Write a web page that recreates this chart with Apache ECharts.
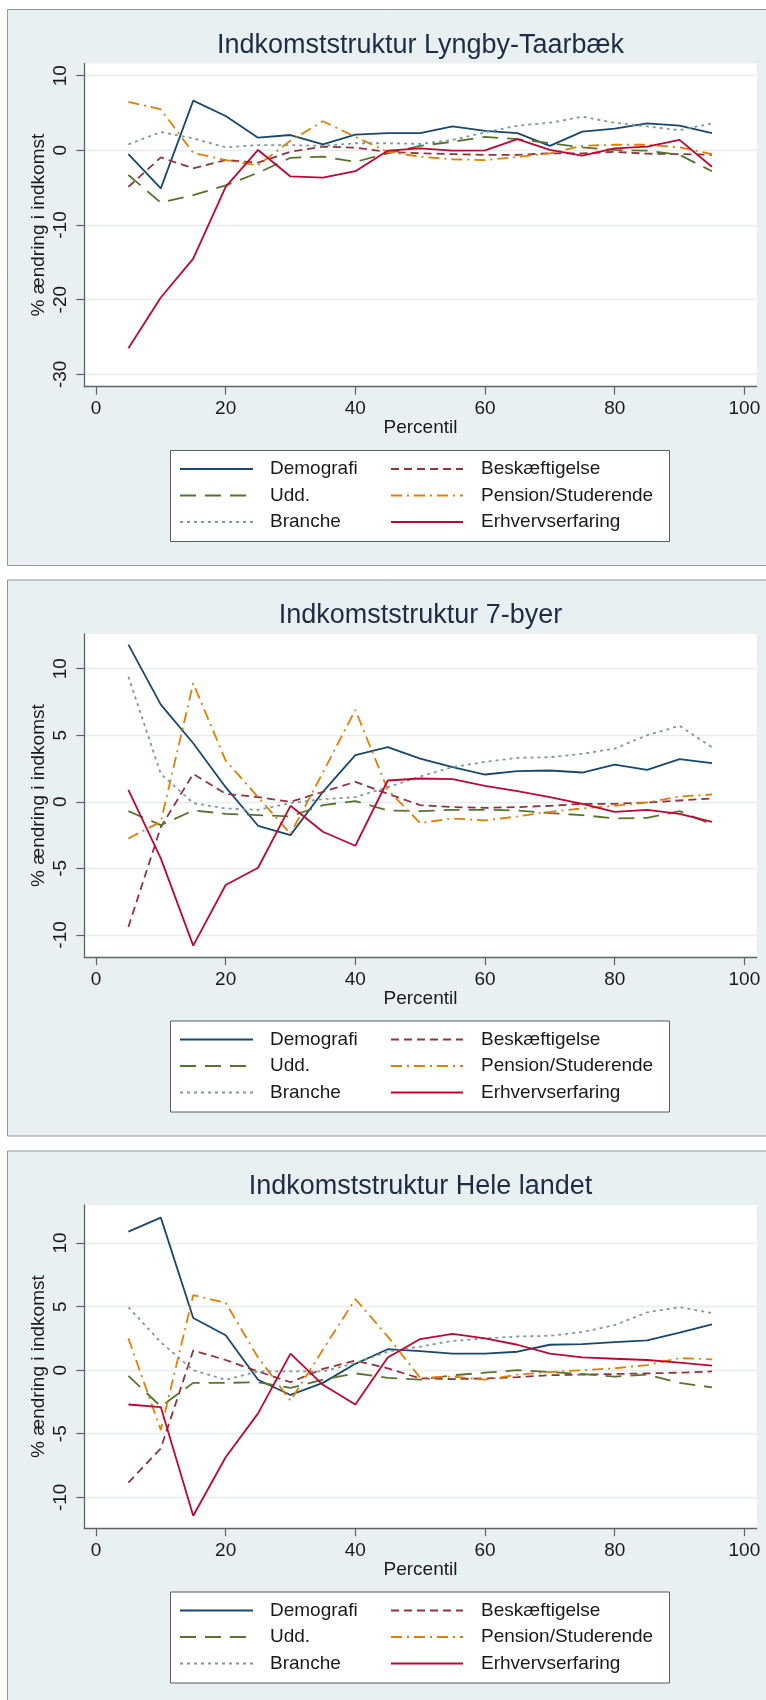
<!DOCTYPE html>
<html><head><meta charset="utf-8">
<script src="https://cdn.jsdelivr.net/npm/echarts@6/dist/echarts.min.js"></script>
<style>html,body{margin:0;padding:0;background:#fff}#chart{width:766px;height:1700px}</style>
</head><body><div id="chart"></div>
<script>
// ---------------- DATA ----------------
const percentiles = [5,10,15,20,25,30,35,40,45,50,55,60,65,70,75,80,85,90,95];
const xTicks = [0,20,40,60,80,100];
const seriesNames = ['Demografi','Beskæftigelse','Udd.','Pension/Studerende','Branche','Erhvervserfaring'];
const panelTitles = ['Indkomststruktur Lyngby-Taarbæk','Indkomststruktur 7-byer','Indkomststruktur Hele landet'];
const yTicksLyngby = [-30,-20,-10,0,10];
const yTicks7byer = [-10,-5,0,5,10];
const yTicksHele = [-10,-5,0,5,10];

const lyngbyDemografi = [-0.5,-5.1,6.65,4.6,1.7,2.05,0.8,2.1,2.3,2.3,3.2,2.6,2.3,0.6,2.5,2.9,3.6,3.3,2.3];
const lyngbyBeskaeftigelse = [-4.9,-0.95,-2.4,-1.3,-1.65,-0.2,0.5,0.35,-0.2,-0.4,-0.5,-0.6,-0.6,-0.4,-0.4,-0.2,-0.45,-0.5,-0.6];
const lyngbyUdd = [-3.3,-7.0,-6.0,-4.7,-3.0,-1.0,-0.85,-1.55,-0.4,0.6,1.15,1.8,1.5,0.95,0.4,0.05,-0.05,-0.6,-2.8];
const lyngbyPension = [6.5,5.5,-0.35,-1.3,-2.0,1.3,3.9,1.8,-0.2,-0.85,-1.2,-1.3,-0.9,-0.4,0.6,0.75,0.75,0.4,-0.5];
const lyngbyBranche = [0.8,2.45,1.6,0.4,0.7,0.7,0.6,0.95,0.95,0.85,1.4,2.4,3.3,3.7,4.5,3.7,3.2,2.7,3.6];
const lyngbyErhverv = [-26.5,-19.7,-14.5,-4.9,0.05,-3.5,-3.65,-2.8,-0.05,0.25,-0.05,0,1.5,0.05,-0.7,0.25,0.5,1.4,-2.2];

const byerDemografi = [11.8,7.3,4.4,1.1,-1.8,-2.5,0.75,3.5,4.1,3.25,2.6,2.05,2.3,2.35,2.2,2.8,2.4,3.2,2.9];
const byerBeskaeftigelse = [-9.4,-1.9,2.1,0.6,0.35,0,0.75,1.5,0.6,-0.25,-0.4,-0.45,-0.4,-0.3,-0.15,-0.15,-0.05,0.1,0.25];
const byerUdd = [-0.7,-1.75,-0.65,-0.9,-1.0,-1.1,-0.25,0.05,-0.65,-0.7,-0.6,-0.6,-0.65,-0.85,-1.0,-1.25,-1.2,-0.7,-1.7];
const byerPension = [-2.75,-1.5,8.9,3.1,0.35,-2.4,2.2,6.9,0.9,-1.6,-1.25,-1.4,-1.1,-0.75,-0.5,-0.3,-0.05,0.4,0.55];
const byerBranche = [9.4,2.1,-0.1,-0.5,-0.6,-0.1,0.2,0.35,1.1,1.9,2.6,3.0,3.3,3.35,3.6,4.0,5.0,5.7,4.1];
const byerErhverv = [0.9,-4.25,-10.8,-6.25,-4.95,-0.3,-2.25,-3.3,1.6,1.75,1.7,1.2,0.8,0.35,-0.15,-0.75,-0.6,-0.9,-1.5];

const heleDemografi = [10.9,12.0,4.1,2.75,-0.75,-1.95,-1.0,0.5,1.65,1.5,1.3,1.3,1.45,2.0,2.05,2.2,2.35,2.95,3.6];
const heleBeskaeftigelse = [-8.85,-6.15,1.55,0.8,-0.1,-0.95,0.1,0.75,0.15,-0.65,-0.7,-0.65,-0.55,-0.4,-0.35,-0.3,-0.25,-0.2,-0.1];
const heleUdd = [-0.45,-2.85,-1.0,-1.0,-0.95,-1.4,-0.75,-0.25,-0.6,-0.75,-0.4,-0.2,0.0,-0.15,-0.3,-0.5,-0.35,-1.0,-1.35];
const helePension = [2.5,-4.7,5.9,5.3,1.0,-2.4,1.6,5.6,2.65,-0.6,-0.5,-0.75,-0.35,-0.15,0.0,0.15,0.4,0.95,0.85];
const heleBranche = [4.95,2.2,0.0,-0.75,-0.1,-0.1,-0.1,0.55,1.45,1.85,2.3,2.5,2.65,2.7,3.0,3.55,4.55,4.95,4.5];
const heleErhverv = [-2.7,-2.9,-11.45,-6.85,-3.4,1.3,-1.15,-2.7,1.0,2.45,2.85,2.5,2.0,1.3,1.0,0.9,0.8,0.6,0.35];

// ---------------- STYLE / LAYOUT ----------------
const FONT = '"Liberation Sans", Arial, sans-serif';
const panelOffsets = [0, 570.5, 1141.5];
const yRanges = [[-31.65, 11.64], [-11.67, 12.61], [-12.43, 13.0]];
const yTickSets = [yTicksLyngby, yTicks7byer, yTicksHele];
const panelData = [
  [lyngbyDemografi, lyngbyBeskaeftigelse, lyngbyUdd, lyngbyPension, lyngbyBranche, lyngbyErhverv],
  [byerDemografi, byerBeskaeftigelse, byerUdd, byerPension, byerBranche, byerErhverv],
  [heleDemografi, heleBeskaeftigelse, heleUdd, helePension, heleBranche, heleErhverv]
];
const seriesStyles = [
  {color:'#1a476f', type:'solid'},
  {color:'#90353b', type:[8,5]},
  {color:'#55752f', type:[16,9]},
  {color:'#e37e00', type:[11,5,2,5]},
  {color:'#7f9a98', type:[3,4]},
  {color:'#c10534', type:'solid'}
];
const axisColor = '#5f6366';
const textColor = '#1a1a1a';

const grids = [], xAxes = [], yAxes = [], series = [], titles = [], legends = [], graphics = [];

panelOffsets.forEach((off, p) => {
  graphics.push({type:'rect', z:-10, shape:{x:7.5, y:9.5+off, width:770, height:556},
    style:{fill:'#e9f0f2', stroke:'#8f9599', lineWidth:1}});
  graphics.push({type:'rect', z:1, shape:{x:170.5, y:450.5+off, width:499, height:91},
    style:{fill:'#ffffff', stroke:'#555b5f', lineWidth:1}});

  grids.push({left:84.3, top:63.4+off, width:672.4, height:323.3, show:true,
    backgroundColor:'#ffffff', borderWidth:0, outerBoundsMode:'none', containLabel:false});

  titles.push({text:panelTitles[p], left:420.5, top:30.5+off, textAlign:'center', padding:0,
    textStyle:{fontFamily:FONT, fontSize:27, fontWeight:'normal', color:'#1e2d45', lineHeight:30}});

  xAxes.push({type:'value', gridIndex:p, min:-1.8, max:101.9,
    name:'Percentil', nameLocation:'middle', nameGap:32, nameMoveOverlap:false,
    nameTextStyle:{fontFamily:FONT, fontSize:19, color:textColor},
    axisLine:{show:true, onZero:false, lineStyle:{color:axisColor, width:1.3}},
    axisTick:{show:true, length:8, customValues:xTicks, lineStyle:{color:axisColor, width:1.2}},
    axisLabel:{show:true, customValues:xTicks, margin:13, fontFamily:FONT, fontSize:19, color:textColor},
    splitLine:{show:false}});

  yAxes.push({type:'value', gridIndex:p, min:yRanges[p][0], max:yRanges[p][1],
    name:'% ændring i indkomst', nameLocation:'middle', nameGap:36, nameMoveOverlap:false,
    nameTextStyle:{fontFamily:FONT, fontSize:19, color:textColor},
    axisLine:{show:true, onZero:false, lineStyle:{color:axisColor, width:1.3}},
    axisTick:{show:true, length:8, customValues:yTickSets[p], lineStyle:{color:axisColor, width:1.2}},
    axisLabel:{show:true, customValues:yTickSets[p], rotate:90, margin:14, fontFamily:FONT, fontSize:19, color:textColor},
    splitLine:{show:true, lineStyle:{color:'#e5edf0', width:1.3}}});

  panelData[p].forEach((vals, s) => {
    series.push({type:'line', name:seriesNames[s], xAxisIndex:p, yAxisIndex:p,
      data: percentiles.map((x, i) => [x, vals[i]]),
      symbol:'none', showSymbol:false, smooth:false, silent:true,
      lineStyle:{color:seriesStyles[s].color, width:1.8, type:seriesStyles[s].type},
      itemStyle:{color:seriesStyles[s].color}});
  });

  const baseText = {fontFamily:FONT, fontSize:19, color:textColor, lineHeight:20};
  const hiddenSymbol = {color:'rgba(0,0,0,0)', borderColor:'rgba(0,0,0,0)', borderWidth:0, opacity:0};
  legends.push({orient:'vertical', padding:0, itemHeight:20, itemGap:6.5, z:5, selectedMode:false,
    left:179, top:459+off, itemWidth:73, itemStyle:hiddenSymbol,
    data:[seriesNames[0], seriesNames[2], seriesNames[4]],
    textStyle:Object.assign({}, baseText, {padding:[0,0,0,12]})});
  legends.push({orient:'vertical', padding:0, itemHeight:20, itemGap:6.5, z:5, selectedMode:false,
    left:390, top:459+off, itemWidth:72, itemStyle:hiddenSymbol,
    data:[seriesNames[1], seriesNames[3], seriesNames[5]],
    textStyle:Object.assign({}, baseText, {padding:[0,0,0,13]})});
});

const chart = echarts.init(document.getElementById('chart'), null, {renderer:'canvas'});
chart.setOption({
  animation:false,
  backgroundColor:'#ffffff',
  title:titles, grid:grids, xAxis:xAxes, yAxis:yAxes, legend:legends,
  graphic:{elements:graphics}, series:series
});
</script></body></html>
